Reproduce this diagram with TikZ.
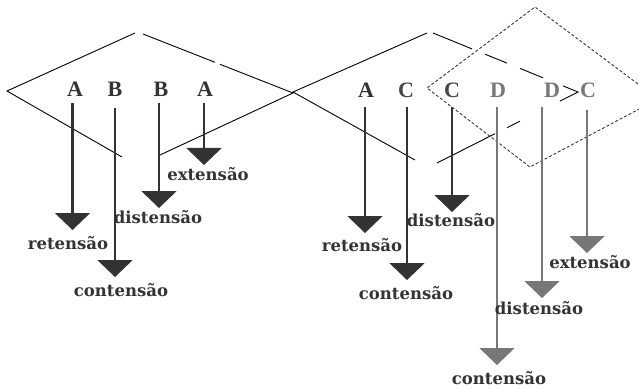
\documentclass[tikz,border=0pt]{standalone}
\usepackage{fontspec}
\setmainfont{Liberation Serif}
\newfontfamily\labfont{DejaVu Serif}
\usetikzlibrary{arrows.meta}
\definecolor{dark}{HTML}{333333}
\definecolor{hatch}{HTML}{777777}
\begin{document}
\begin{tikzpicture}[x=1pt,y=-1pt,
  letter/.style={font=\bfseries\fontsize{22}{22}\selectfont, inner sep=0pt, anchor=base},
  lab/.style={font=\labfont\bfseries\fontsize{16.5}{16.5}\selectfont, inner sep=0pt},
  dia/.style={draw=black, line width=0.9pt},
  dashdia/.style={draw=black!85, line width=0.8pt, dash pattern=on 3pt off 2pt},
  dk/.style={draw=dark, line width=2.3pt, -{Triangle[width=35pt,length=17pt]}, shorten <=6pt},
  gr/.style={draw=hatch, line width=2.3pt, -{Triangle[width=35pt,length=17pt]}, shorten <=9pt}
]
\useasboundingbox (0,0) rectangle (639,390);
\fill[white] (0,0) rectangle (639,390);

% left diamond
\draw[dia] (122,157) -- (7,91) -- (135,33);
\draw[dia] (143,34) -- (215,62.3);
\draw[dia] (220,64.3) -- (293,93) -- (160,155);

% right solid diamond
\draw[dia] (415,160) -- (293,92) -- (427,33);
\draw[dia] (433,33) -- (472,48.9);
\draw[dia] (485,54.2) -- (507,63.1);
\draw[dia] (520,68.4) -- (543,77.8);
\draw[dia] (563,85.9) -- (578,92) -- (560,101.1);
\draw[dia] (520,121.2) -- (507,127.7);
\draw[dia] (495,133.7) -- (437,163);

% dashed diamond
\begin{scope}
\clip (0,0) rectangle (639,390);
\draw[dashdia] (658,99) -- (535,7) -- (427,88) -- (530,167) -- cycle;
\end{scope}

% letters left
\node[letter, text=dark] (lA1) at (75,97) {A};
\node[letter, text=dark] (lB1) at (115,97) {B};
\node[letter, text=dark] (lB2) at (161,97) {B};
\node[letter, text=dark] (lA2) at (205,97) {A};
% letters right
\node[letter, text=dark] (rA) at (366,98) {A};
\node[letter, text=dark!90] (rC1) at (406,98) {C};
\node[letter, text=dark!90] (rC2) at (452,98) {C};
\node[letter, text=hatch] (rD1) at (498,98) {D};
\node[letter, text=hatch] (rD2) at (552,98) {D};
\node[letter, text=hatch] (rC3) at (588,98) {C};

% tips
\coordinate (tA1) at (72.5,230);
\coordinate (tB1) at (115,277);
\coordinate (tB2) at (159,208);
\coordinate (tA2) at (204,165);
\coordinate (trA) at (365,233);
\coordinate (trC1) at (407,280);
\coordinate (trC2) at (452,212);
\coordinate (trD1) at (497,365);
\coordinate (trD2) at (542,298);
\coordinate (trC3) at (587,253);

\draw[dk] (lA1.south -| tA1) -- (tA1);
\draw[dk, shorten <=11pt] (lB1.south -| tB1) -- (tB1);
\draw[dk] (lB2.south -| tB2) -- (tB2);
\draw[dk] (lA2.south -| tA2) -- (tA2);
\draw[dk, shorten <=9pt] (rA.south -| trA) -- (trA);
\draw[dk, shorten <=9pt] (rC1.south -| trC1) -- (trC1);
\draw[dk, shorten <=9pt] (rC2.south -| trC2) -- (trC2);
\draw[gr] (rD1.south -| trD1) -- (trD1);
\draw[gr] (rD2.south -| trD2) -- (trD2);
\draw[gr, shorten <=12pt] (rC3.south -| trC3) -- (trC3);

% labels
\node[lab, text=dark] (l1) at (68,243) {retensão};
\node[lab, text=dark] (l2) at (121,290) {contensão};
\node[lab, text=dark] (l3) at (158,217) {distensão};
\node[lab, text=dark] (l4) at (208,174) {extensão};
\node[lab, text=dark] (r1) at (362,245) {retensão};
\node[lab, text=dark] (r2) at (406,293) {contensão};
\node[lab, text=dark] (r3) at (451,220) {distensão};
\node[lab, text=dark] (r4) at (499,378) {contensão};
\node[lab, text=dark] (r5) at (539,308) {distensão};
\node[lab, text=dark] (r6) at (590,262) {extensão};
\end{tikzpicture}
\end{document}
